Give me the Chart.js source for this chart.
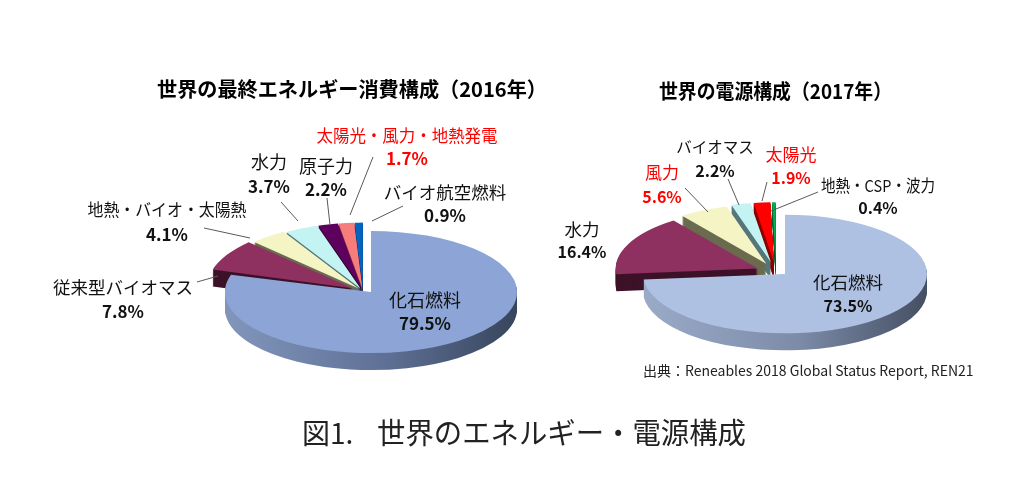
<!DOCTYPE html>
<html lang="ja">
<head>
<meta charset="utf-8">
<title>世界のエネルギー・電源構成</title>
<script src="https://cdn.jsdelivr.net/npm/chart.js@4"></script>
<style>
  html, body { margin: 0; background: #fff; }
  #stage { position: relative; width: 1024px; height: 482px; overflow: hidden; }
  canvas { position: absolute; left: 0; top: 0; }
</style>
</head>
<body>
<div id="stage">
  <canvas id="finalChart" width="1024" height="482"></canvas>
  <canvas id="powerChart" width="1024" height="482"></canvas>
</div>
<script>
// data
const finalTitle = "世界の最終エネルギー消費構成（2016年）";
const finalLabels = ["化石燃料", "従来型バイオマス", "地熱・バイオ・太陽熱", "水力", "原子力", "太陽光・風力・地熱発電", "バイオ航空燃料"];
const finalValues = [79.5, 7.8, 4.1, 3.7, 2.2, 1.7, 0.9];

const powerTitle = "世界の電源構成（2017年）";
const powerLabels = ["化石燃料", "水力", "風力", "バイオマス", "太陽光", "地熱・CSP・波力"];
const powerValues = [73.5, 16.4, 5.6, 2.2, 1.9, 0.4];

const sourceText = "出典：Reneables 2018 Global Status Report, REN21";
const captionNo = "図1.";
const captionText = "世界のエネルギー・電源構成";

const JP = '"Noto Sans CJK JP", "Noto Sans", sans-serif';

// look of the two pies
const finalStyle = {
  cx: 371, cy: 292, radius: 146, squash: 0.418, depth: 17,
  groupX: -8, groupY: -1, groupSquash: 0.45,
  top: ["#8CA5D6", "#8E3060", "#F5F4C4", "#C3F3F3", "#5E005E", "#F87C7C", "#0563C1"],
  side: ["", "#3D1228", "#6B6B50", "#55767A", "#2A002A", "#8A4040", "#02305E"],
  wall: ["#8296BC", "#5F7096", "#37455C"],
  explode: [0, 12, 8, 6, 6, 6, 6],
  title: [352, 89], titleWidth: 390, valueSize: 17,
  // [label x, name y, value y, line x1, y1, x2, y2]
  notes: [
    [425, 300, 324],
    [123, 287, 312, 197, 282, 218, 276],
    [167, 210, 235, 204, 228, 250, 238],
    [269, 162, 187, 281, 202, 298, 221],
    [326, 166, 190, 327, 198, 330, 225],
    [407, 135, 159, 373, 157, 350, 215],
    [445, 192, 216, 403, 206, 372, 221]
  ],
  nameSizes: [18, 17.5, 17, 18, 18, 17.3, 17.5],
  nameWidths: [0, 0, 159, 0, 0, 181, 0],
  red: [5]
};
const powerStyle = {
  cx: 785, cy: 274, radius: 142, squash: 0.418, depth: 17,
  groupX: -9, groupY: -2, groupSquash: 0.42,
  top: ["#AEC1E3", "#8E3060", "#F5F4C4", "#C3F3F3", "#FF0000", "#00B050"],
  side: ["", "#3D1228", "#6B6B50", "#55767A", "#8B0000", "#005A28"],
  wall: ["#9AABC8", "#7C8BA8", "#454F63"],
  explode: [0, 20, 22, 24, 24, 24],
  title: [775.5, 91], titleWidth: 233, valueSize: 16,
  notes: [
    [848, 282, 306],
    [582, 229, 252],
    [662, 173, 197, 685, 188, 708, 212],
    [715, 147, 171, 728, 179, 739, 205],
    [791, 155, 178, 767, 182, 762, 201],
    [878, 186, 208, 818, 192, 771, 211]
  ],
  nameSizes: [17.5, 17.5, 17, 15.5, 17, 16.5],
  nameWidths: [0, 0, 0, 0, 0, 114],
  red: [2, 4]
};

// extrudes the squashed arcs of the pie element by element
const tiltedPie = {
  id: "tiltedPie",
  beforeDatasetsDraw(chart, args, opts) {
    const ctx = chart.ctx, s = opts.look;
    const arcs = chart.getDatasetMeta(0).data;
    const plainOpts = fill => ({
      backgroundColor: fill, borderColor: "transparent", borderWidth: 0, borderAlign: "center",
      borderRadius: 0, offset: 0, spacing: 0, circular: true,
      borderDash: [], borderDashOffset: 0, borderJoinStyle: "round"
    });
    const drawAt = (arc, i, shift, fill) => {
      const main = i === 0;
      const mid = (arc.startAngle + arc.endAngle) / 2;
      const saved = arc.options;
      ctx.save();
      ctx.translate(s.cx + (main ? 0 : s.groupX), s.cy + (main ? 0 : s.groupY) + shift);
      ctx.scale(1, main ? s.squash : s.groupSquash);
      ctx.translate(Math.cos(mid) * s.explode[i] - arc.x, Math.sin(mid) * s.explode[i] - arc.y);
      arc.options = plainOpts(fill);
      arc.draw(ctx);
      arc.options = saved;
      ctx.restore();
    };
    // back slices first, the big one last
    for (let i = arcs.length - 1; i >= 0; i--) {
      let wallFill = s.side[i];
      if (i === 0) {
        const a = arcs[0];
        wallFill = ctx.createLinearGradient(a.x - s.radius, 0, a.x + s.radius, 0);
        wallFill.addColorStop(0, s.wall[0]);
        wallFill.addColorStop(0.55, s.wall[1]);
        wallFill.addColorStop(1, s.wall[2]);
      }
      for (let d = s.depth; d > 0; d--) drawAt(arcs[i], i, d, wallFill);
      drawAt(arcs[i], i, 0, s.top[i]);
    }
    return false;
  },
  afterDraw(chart, args, opts) {
    const ctx = chart.ctx, s = opts.look;
    ctx.save();
    ctx.textAlign = "center";
    ctx.textBaseline = "middle";
    // leader lines
    ctx.strokeStyle = "#595959";
    ctx.lineWidth = 1;
    s.notes.forEach(n => {
      if (n.length < 7) return;
      ctx.beginPath();
      ctx.moveTo(n[3], n[4]);
      ctx.lineTo(n[5], n[6]);
      ctx.stroke();
    });
    // slice names and shares
    opts.names.forEach((name, i) => {
      const n = s.notes[i];
      ctx.fillStyle = s.red.includes(i) ? "#FF0000" : "#111";
      ctx.font = `${s.nameSizes[i]}px ${JP}`;
      if (s.nameWidths[i]) ctx.fillText(name, n[0], n[1], s.nameWidths[i]);
      else ctx.fillText(name, n[0], n[1]);
      ctx.font = `bold ${s.valueSize}px ${JP}`;
      ctx.fillText(opts.values[i].toFixed(1) + "%", n[0], n[2]);
    });
    ctx.fillStyle = "#000";
    ctx.font = `bold 20.5px ${JP}`;
    ctx.fillText(opts.title, s.title[0], s.title[1], s.titleWidth);
    (opts.extra || []).forEach(t => {
      ctx.font = t.font;
      ctx.textAlign = "left";
      ctx.fillStyle = t.color;
      ctx.fillText(t.text, t.x, t.y, t.width);
    });
    ctx.restore();
  }
};

function makePie(id, names, values, title, look, extra) {
  return new Chart(document.getElementById(id), {
    type: "pie",
    data: {
      labels: names,
      datasets: [{ data: values, backgroundColor: look.top, borderWidth: 0, radius: look.radius }]
    },
    options: {
      responsive: false,
      animation: false,
      radius: look.radius,
      plugins: {
        legend: { display: false },
        tooltip: { enabled: false },
        tiltedPie: { look, names, values, title, extra }
      }
    },
    plugins: [tiltedPie]
  });
}

makePie("finalChart", finalLabels, finalValues, finalTitle, finalStyle);
makePie("powerChart", powerLabels, powerValues, powerTitle, powerStyle, [
  { text: sourceText, x: 643, y: 371, font: `14px ${JP}`, color: "#222", width: 333 },
  { text: captionNo, x: 302, y: 433, font: `28px ${JP}`, color: "#222", width: 58 },
  { text: captionText, x: 377, y: 433, font: `29px ${JP}`, color: "#222", width: 369 }
]);
</script>
</body>
</html>
